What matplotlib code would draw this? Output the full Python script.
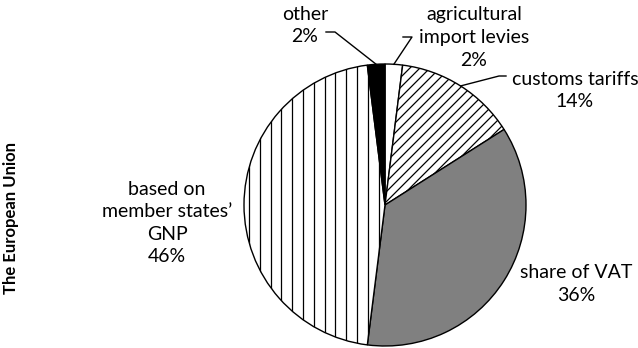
import numpy as np
import matplotlib
matplotlib.use("Agg")
import matplotlib.pyplot as plt
from matplotlib.collections import LineCollection

plt.rcParams["font.family"] = ["Lato", "DejaVu Sans"]

# EU budget sources, clockwise from 12 o'clock
labels = ["agricultural\nimport levies", "customs tariffs", "share of VAT",
          "based on\nmember states\u2019\nGNP", "other"]
shares = [2, 14, 36, 46, 2]
colors = ["white", "white", "#808080", "white", "black"]

W, H = 638, 348
fig = plt.figure(figsize=(W / 100, H / 100), dpi=100)
ax = fig.add_axes([0, 0, 1, 1])
ax.set_aspect("equal")
ax.axis("off")

cx, cy, r = 385, H - 205, 141
wedges, _ = ax.pie(shares, colors=colors, startangle=90, counterclock=False,
                   center=(cx, cy), radius=r,
                   wedgeprops=dict(edgecolor="black", linewidth=1.0))
ax.set_xlim(0, W)
ax.set_ylim(0, H)


def hatch(wedge, segs):
    lc = LineCollection(segs, colors="black", linewidths=0.9)
    ax.add_collection(lc)
    lc.set_clip_path(wedge)


# diagonal hatching on customs tariffs
step = 10.0
segs = [[(x0, cy - r), (x0 + 2 * r, cy + r)]
        for x0 in np.arange(cx - 3 * r, cx + 2 * r, step)]
hatch(wedges[1], segs)

# vertical hatching on the GNP share
step = 10.8
segs = [[(x0, cy - r), (x0, cy + r)] for x0 in np.arange(cx - r + 5, cx, step)]
hatch(wedges[3], segs)


def edge_point(i):
    # mid-angle of wedge i on the rim
    before = sum(shares[:i]) + shares[i] / 2
    ang = np.deg2rad(90 - 360 * before / sum(shares))
    return cx + r * np.cos(ang), cy + r * np.sin(ang)


fs = 14
txt = dict(ha="center", va="center", fontsize=fs, linespacing=1.4)

# leader lines
px, py = edge_point(4)
ax.plot([px, 335, 326], [py, H - 32, H - 32], color="black", lw=1)
px, py = edge_point(0)
ax.plot([px, 412, 403], [py, H - 37, H - 37], color="black", lw=1)
px, py = edge_point(1)
ax.plot([px, 499, 506], [py, H - 76, H - 76], color="black", lw=1)

ax.text(305, H - 25.5, "%s\n%d%%" % (labels[4], shares[4]), **txt)
ax.text(474, H - 37.5, "%s\n%d%%" % (labels[0], shares[0]), **txt)
ax.text(575, H - 90.5, "%s\n%d%%" % (labels[1], shares[1]), **txt)
ax.text(576, H - 284, "%s\n%d%%" % (labels[2], shares[2]), **txt)
ax.text(167, H - 223, "%s\n%d%%" % (labels[3], shares[3]), **txt)

fig.text(11 / W, 1 - 218 / H, "The European Union", rotation=90,
         ha="center", va="center", fontsize=12, fontweight="bold")

fig.savefig("out.png", dpi=100)
